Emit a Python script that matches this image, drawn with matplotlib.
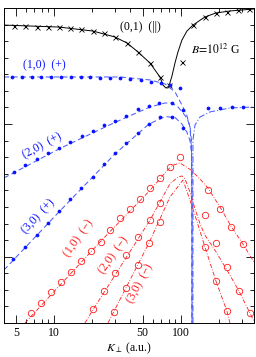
import matplotlib
matplotlib.use('Agg')
import matplotlib.pyplot as plt
from matplotlib.ticker import FixedLocator, FixedFormatter, NullFormatter

plt.rcParams['font.family'] = ['Liberation Serif', 'DejaVu Serif']
plt.rcParams['mathtext.fontset'] = 'stix'

# ---------------- data ----------------
# (0,1) (||) black
k01_pts = [4.84, 5.91, 7.35, 8.97, 10.95, 13.37, 16.32, 20.28, 24.76, 30.22, 37.56,
           45.85, 57.01, 68.33, 80.43, 101.8, 124.3, 154.5, 188.6, 230.2, 281.1, 343.1]
y01_pts = [17.91, 17.91, 17.85, 17.85, 17.85, 17.79, 17.73, 17.61, 17.49, 17.25, 16.89,
           16.35, 15.68, 14.84, 14.35, 15.74, 17.97, 18.46, 18.70, 18.76, 18.88, 18.94]
k01_line = [4.04, 10.95, 20.28, 30.22, 37.56, 45.85, 57.01, 68.33, 72.2, 76.19, 80.43,
            84.95, 89.7, 94.7, 101.8, 111.5, 124.3, 154.5, 188.6, 243.1, 375.7]
y01_line = [17.97, 17.85, 17.61, 17.25, 16.89, 16.35, 15.68, 14.84, 14.35, 14.17, 14.29,
            14.90, 15.68, 16.35, 17.07, 17.61, 17.97, 18.46, 18.70, 18.82, 18.94]

# (n,0) (+) blue
k10p_pts = [4.67, 5.60, 6.71, 7.90, 9.47, 11.36, 13.61, 16.32, 19.21, 23.02, 27.61,
            33.08, 39.67, 48.42, 58.06, 69.58, 81.92, 98.2]
y10p_pts = [14.84, 14.84, 14.84, 14.84, 14.84, 14.84, 14.84, 14.84, 14.84, 14.78, 14.78,
            14.78, 14.72, 14.66, 14.54, 14.48, 14.35, 14.17]
k10p_line = [4.04, 33.08, 57.01, 74.82, 89.7, 101.8, 111.5, 117.7, 121.0, 122.1, 122.1]
y10p_line = [14.84, 14.84, 14.66, 14.42, 13.94, 13.15, 12.49, 11.82, 10.5, 5.0, 0.0]

k20p_pts = [4.84, 5.91, 7.35, 8.97, 10.95, 13.37, 16.61, 20.28, 24.76, 30.22, 36.89,
            45.85, 55.98, 67.11, 84.95, 103.7]
y20p_pts = [9.11, 9.53, 9.89, 10.25, 10.56, 10.92, 11.28, 11.58, 11.94, 12.18, 12.49,
            12.91, 13.09, 13.27, 13.27, 12.85]
k20p_line = [4.04, 10.95, 30.22, 57.01, 74.8, 84.95, 94.7, 103.7, 111.5, 117.7, 121.0, 122.1, 122.1]
y20p_line = [8.75, 10.5, 12.1, 13.03, 13.27, 13.27, 13.03, 12.67, 12.36, 11.88, 11.0, 9.0, 0.0]

k30p_pts = [4.76, 5.91, 7.35, 8.97, 10.95, 13.37, 16.32, 20.28, 24.76, 30.22, 36.89,
            45.85, 55.98, 68.33, 84.95, 103.7]
y30p_pts = [3.86, 4.58, 5.31, 6.03, 6.76, 7.48, 8.14, 8.81, 9.59, 10.25, 10.86,
            11.46, 12.0, 12.42, 12.42, 11.76]
k30p_line = [4.04, 10.95, 30.22, 55.98, 74.8, 89.7, 101.8, 111.5, 117.7, 121.0, 122.1, 122.1]
y30p_line = [3.2, 6.7, 10.2, 12.0, 12.45, 12.4, 12.0, 11.5, 11.0, 10.3, 8.0, 0.0]

# upper branch beyond the crossing
kr_pts = [163.2, 202.8, 252.1, 307.7]
yr_pts = [12.97, 12.97, 13.03, 13.03]
kr_line = [124.3, 124.3, 128.9, 141.1, 169.2, 243.1, 375.7]
yr_line = [0.0, 11.04, 11.94, 12.42, 12.73, 12.97, 13.03]

# (n,0) (-) red
k10m_pts = [6.59, 7.90, 9.47, 11.36, 13.61, 16.32, 19.56, 23.45, 27.61, 33.08, 39.67,
            47.55, 57.01, 68.33, 81.92, 98.2, 163.2, 202.8, 247.5, 307.7]
y10m_pts = [0.60, 1.21, 1.87, 2.47, 3.08, 3.74, 4.34, 4.89, 5.61, 6.33, 6.88,
            7.48, 8.14, 8.75, 9.41, 10.01, 8.02, 6.88, 5.79, 4.76]
k10m_line = [5.91, 23.45, 57.01, 74.82, 84.95, 98.2, 119.9, 143.7, 163.2, 202.8, 247.5, 307.7, 375.7]
y10m_line = [0.0, 4.95, 8.0, 9.05, 9.5, 9.65, 9.23, 8.62, 8.14, 7.0, 5.85, 4.76, 3.68]

k20m_pts = [20.28, 24.76, 30.22, 36.89, 45.85, 57.01, 68.33, 154.5, 188.6, 230.2, 286.2, 349.4]
y20m_pts = [0.84, 1.93, 3.02, 4.10, 5.19, 6.21, 7.24, 6.51, 4.83, 3.38, 1.93, 0.60]
k20m_line = [17.54, 20.28, 57.01, 68.33, 81.92, 94.7, 101.8, 107.5, 117.7, 128.9, 141.1,
             154.5, 188.6, 230.2, 286.2, 349.4, 375.7]
y20m_line = [0.0, 0.8, 6.2, 7.3, 8.4, 8.8, 8.87, 8.7, 7.9, 6.9, 6.0, 5.3, 4.3, 3.2, 1.93, 0.6, 0.1]

k30m_pts = [29.68, 36.89, 45.85, 55.98, 68.33, 154.5, 188.6, 230.2]
y30m_pts = [0.66, 2.11, 3.50, 4.83, 6.09, 4.58, 2.53, 0.72]
k30m_line = [26.62, 55.98, 81.92, 103.7, 117.7, 128.9, 154.5, 188.6, 230.2, 243.0]
y30m_line = [0.0, 4.83, 7.6, 8.62, 7.42, 6.51, 4.58, 2.53, 0.72, 0.0]

x_major = [5, 10, 50, 100]
x_major_labels = ['5', '10', '50', '100']
x_minor = [6, 7, 8, 9, 20, 30, 40, 60, 70, 80, 90, 200, 300]
y_minor = list(range(1, 19))
y_major = [4, 12]

# ---------------- plot ----------------
fig = plt.figure(figsize=(2.56, 3.57), dpi=100)
ax = fig.add_axes([4 / 256, 34 / 357, 250 / 256, 315 / 357])
ax.set_xscale('log')
ax.set_xlim(4.04, 376)
ax.set_ylim(0, 19)

blue = '#0a14ff'
lblue = '#4a5cff'
red = '#ff1a1a'

# black
ax.plot(k01_line, y01_line, '-', color='black', lw=0.7)
ax.plot(k01_pts, y01_pts, 'x', color='black', ms=3.6, mew=0.6, ls='none')

# blue
dash = (0, (5, 3))
ax.plot(k10p_line, y10p_line, color=lblue, lw=0.75, ls=dash)
ax.plot(k20p_line, y20p_line, color=lblue, lw=0.75, ls=dash)
ax.plot(k30p_line, y30p_line, color=lblue, lw=0.75, ls=dash)
ax.plot(kr_line, yr_line, color=lblue, lw=0.75, ls=(0, (6, 2, 1, 2)))
for kk, yy in [(k10p_pts, y10p_pts), (k20p_pts, y20p_pts), (k30p_pts, y30p_pts), (kr_pts, yr_pts)]:
    ax.plot(kk, yy, 'o', color=blue, ms=2.7, mew=0, ls='none')

# red
dd = (0, (5, 2, 1, 2))
for kk, yy in [(k10m_line, y10m_line), (k20m_line, y20m_line), (k30m_line, y30m_line)]:
    ax.plot(kk, yy, color=red, lw=0.6, ls=dd)
for kk, yy in [(k10m_pts, y10m_pts), (k20m_pts, y20m_pts), (k30m_pts, y30m_pts)]:
    ax.plot(kk, yy, 'o', mfc='none', mec=red, ms=4.6, mew=0.6, ls='none')

# labels
fs = 8.5
ax.text(47.5, 17.85, '(0,1)  (||)', fontsize=fs, ha='center', va='center', color='black')
ax.text(119.9, 16.47, r'$B\!=\!10^{12}$ G', fontsize=fs, ha='left', va='center', color='black')
ax.text(5.70, 15.56, '(1,0)  (+)', fontsize=fs, ha='left', va='center', color=blue)
ax.text(8.05, 10.68, '(2,0)  (+)', fontsize=fs, ha='center', va='center', color=blue,
        rotation=28, rotation_mode='anchor')
ax.text(7.48, 6.45, '(3,0)  (+)', fontsize=fs, ha='center', va='center', color=blue,
        rotation=47, rotation_mode='anchor')
ax.text(15.73, 5.13, '(1,0)  (\u2212)', fontsize=fs, ha='center', va='center', color=red,
        rotation=55, rotation_mode='anchor')
ax.text(29.66, 4.10, '(2,0)  (\u2212)', fontsize=fs, ha='center', va='center', color=red,
        rotation=55, rotation_mode='anchor')
ax.text(47.55, 2.41, '(3,0)  (\u2212)', fontsize=fs, ha='center', va='center', color=red,
        rotation=62, rotation_mode='anchor')

ax.set_xlabel(r'$K_{\perp}$ (a.u.)', fontsize=fs, labelpad=1)

# ticks
ax.xaxis.set_major_locator(FixedLocator(x_major))
ax.xaxis.set_major_formatter(FixedFormatter(x_major_labels))
ax.xaxis.set_minor_locator(FixedLocator(x_minor))
ax.xaxis.set_minor_formatter(NullFormatter())
ax.yaxis.set_major_locator(FixedLocator(y_major))
ax.yaxis.set_minor_locator(FixedLocator(y_minor))
ax.yaxis.set_major_formatter(NullFormatter())
ax.tick_params(axis='both', which='both', direction='in', top=True, right=True,
               labelsize=fs, width=0.6, pad=3)
ax.tick_params(axis='both', which='major', length=5.5)
ax.tick_params(axis='both', which='minor', length=3)
ax.tick_params(axis='y', which='both', labelleft=False)
for s in ax.spines.values():
    s.set_linewidth(0.7)

fig.savefig('out.png', dpi=100)
